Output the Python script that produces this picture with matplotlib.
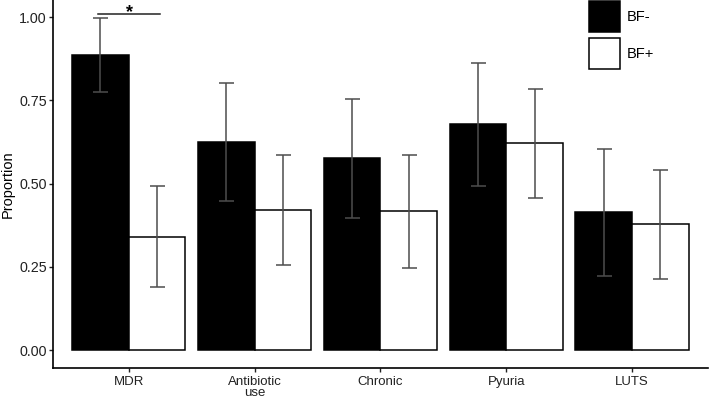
import numpy as np
import matplotlib
matplotlib.use("Agg")
import matplotlib.pyplot as plt
from matplotlib.patches import Patch

plt.rcParams["font.family"] = ["Liberation Sans", "DejaVu Sans"]

categories = ["MDR", "Antibiotic\nuse", "Chronic", "Pyuria", "LUTS"]
groups = ["BF-", "BF+"]

bf_neg = [0.887, 0.626, 0.577, 0.679, 0.415]
bf_neg_lo = [0.775, 0.447, 0.397, 0.494, 0.222]
bf_neg_hi = [0.997, 0.803, 0.754, 0.864, 0.603]

bf_pos = [0.341, 0.421, 0.417, 0.621, 0.378]
bf_pos_lo = [0.188, 0.255, 0.246, 0.456, 0.213]
bf_pos_hi = [0.493, 0.585, 0.585, 0.784, 0.541]

fig = plt.figure(figsize=(7.09, 4.0), dpi=100)
ax = fig.add_axes([0.075, 0.08, 0.923, 0.92])

x = np.arange(1, len(categories) + 1)
w = 0.45
err_col = "#4d4d4d"

for vals, lo, hi, off, fc in [(bf_neg, bf_neg_lo, bf_neg_hi, -w / 2, "black"),
                              (bf_pos, bf_pos_lo, bf_pos_hi, w / 2, "white")]:
    vals = np.array(vals)
    ax.bar(x + off, vals, width=w, color=fc, edgecolor="black", linewidth=1.1, zorder=2)
    yerr = [vals - np.array(lo), np.array(hi) - vals]
    ax.errorbar(x + off, vals, yerr=yerr, fmt="none", ecolor=err_col,
                elinewidth=1.1, capsize=5.4, capthick=1.1, zorder=3)

# significance marker for MDR
ax.plot([0.76, 1.25], [1.01, 1.01], color="#222222", lw=1.1, clip_on=False, zorder=4)
ax.text(1.005, 1.0, "*", ha="center", va="baseline", fontsize=13, fontweight="bold",
        clip_on=False)

ax.set_xlim(0.4, 5.6)
ax.set_ylim(-0.054, 1.052)
ax.set_xticks(x)
ax.set_xticklabels(categories, fontsize=9.5, color="#222222", linespacing=0.8)
ax.set_yticks([0, 0.25, 0.5, 0.75, 1.0])
ax.set_yticklabels(["0.00", "0.25", "0.50", "0.75", "1.00"], fontsize=10.3, color="#222222")
ax.set_ylabel("Proportion", fontsize=10.5, labelpad=3)
ax.tick_params(length=3, width=1.0, color="#222222", pad=1.5)
ax.tick_params(axis="x", pad=3)
for s in ["top", "right"]:
    ax.spines[s].set_visible(False)
for s in ["left", "bottom"]:
    ax.spines[s].set_linewidth(1.2)

handles = [Patch(facecolor="black", edgecolor="black", linewidth=1.1),
           Patch(facecolor="white", edgecolor="black", linewidth=1.1)]
ax.legend(handles, groups, loc="upper left", bbox_to_anchor=(589 / 709, 0.998),
          bbox_transform=fig.transFigure, frameon=False, fontsize=10.5,
          handlelength=2.13, handleheight=2.9, labelspacing=0.4,
          handletextpad=0.45, borderpad=0, borderaxespad=0)

fig.savefig("out.png", dpi=100)
